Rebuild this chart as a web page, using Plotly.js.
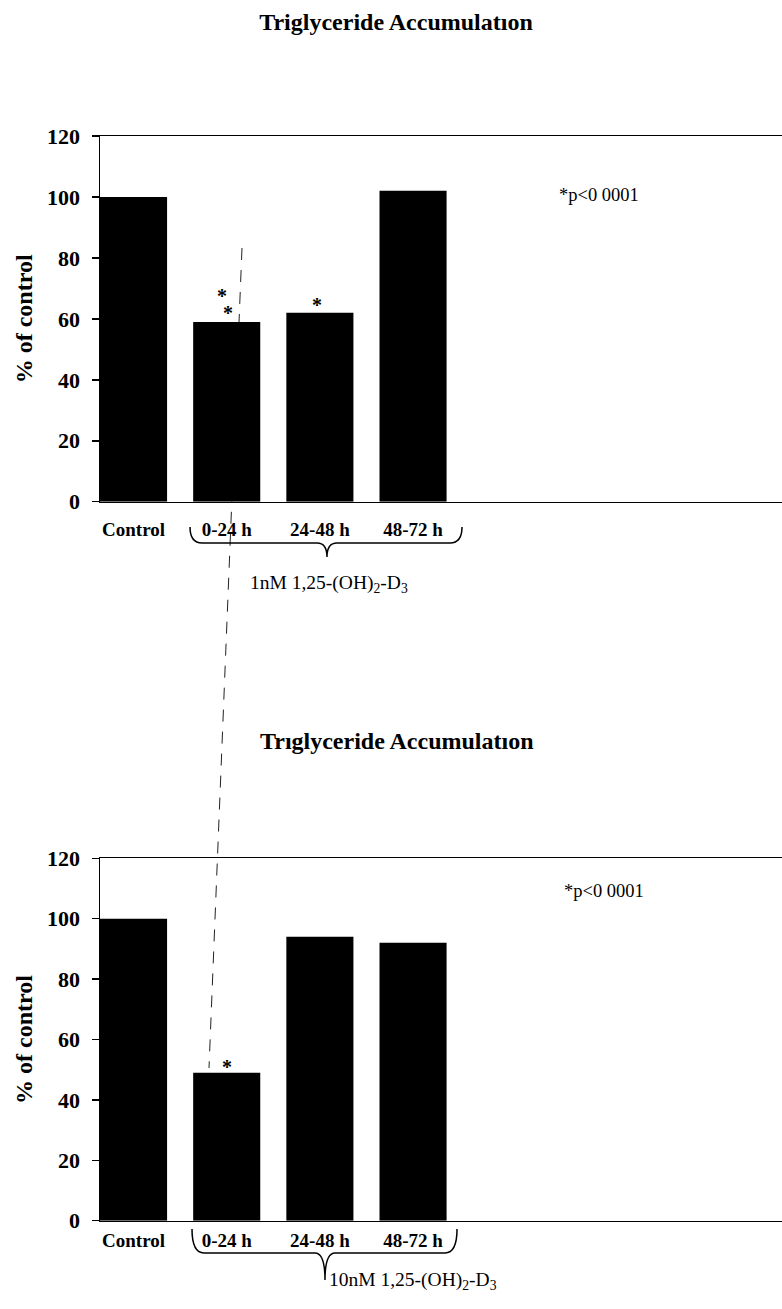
<!DOCTYPE html>
<html>
<head>
<meta charset="utf-8">
<script src="https://cdn.plot.ly/plotly-3.0.1.min.js"></script>
<style>html,body{margin:0;padding:0;background:#fff;}#chart{width:782px;height:1309px;}</style>
</head>
<body>
<div id="chart"></div>
<script>
// ---- data ----
const categories = ['Control', '0-24 h', '24-48 h', '48-72 h'];
const values1nM = [100, 59, 62, 102];
const values10nM = [100, 49, 94, 92];
const yTicks = [0, 20, 40, 60, 80, 100, 120];
const titleTop = 'Triglyceride Accumulatıon';
const titleBottom = 'Trıglyceride Accumulatıon';
const groupTop = '1nM 1,25-(OH)<sub>2</sub>-D<sub>3</sub>';
const groupBottom = '10nM 1,25-(OH)<sub>2</sub>-D<sub>3</sub>';
const pNote = '*p&lt;0 0001';
// significance stars: [category, y-value]
const starsTop = [[0.95, 68.8], [1.01, 63.2], [1.97, 65.9]];
const starsBottom = [[1.0, 52.2]];

// ---- layout helpers ----
const W = 782, H = 1309, L = 100;
const px = x => (x - L) / (W - L);
const py = y => 1 - y / H;
const SERIF = '"Liberation Serif", "Times New Roman", serif';

function bracePath(xl, xr, yTop, yMid, xTip, yTip) {
  const P = (x, y) => px(x).toFixed(4) + ',' + py(y).toFixed(4);
  return 'M' + P(xl, yTop) + ' Q' + P(xl, yMid) + ' ' + P(xl + 12, yMid) +
    ' L' + P(xTip - 10, yMid) + ' Q' + P(xTip, yMid) + ' ' + P(xTip, yTip) +
    ' Q' + P(xTip, yMid) + ' ' + P(xTip + 10, yMid) +
    ' L' + P(xr - 12, yMid) + ' Q' + P(xr, yMid) + ' ' + P(xr, yTop);
}

const barStyle = {color: '#000', line: {color: '#000', width: 0}};
const traces = [
  {type: 'bar', x: categories, y: values1nM, xaxis: 'x', yaxis: 'y', marker: barStyle, width: 0.72, hoverinfo: 'x+y'},
  {type: 'bar', x: categories, y: values10nM, xaxis: 'x2', yaxis: 'y2', marker: barStyle, width: 0.72, hoverinfo: 'x+y'}
];

function xAxis(anchor, standoff) {
  return {
    anchor: anchor, domain: [0, 1], type: 'category', range: [-0.36, 6.96],
    showline: true, linecolor: '#000', linewidth: 1.5, mirror: true,
    ticks: '', showgrid: false, zeroline: false,
    ticklabelstandoff: standoff,
    tickfont: {family: SERIF, size: 19, color: '#000', weight: 'bold'}
  };
}
function yAxis(anchor, domain) {
  return {
    anchor: anchor, domain: domain, range: [0, 120], tickvals: yTicks,
    showline: true, linecolor: '#000', linewidth: 1.5,
    ticks: 'outside', ticklen: 7, tickwidth: 1.5, tickcolor: '#000',
    showgrid: false, zeroline: false, ticklabelstandoff: 7,
    tickfont: {family: SERIF, size: 22, color: '#000', weight: 'bold'},
    title: {text: '% of control', standoff: 7, font: {family: SERIF, size: 24, color: '#000', weight: 'bold'}}
  };
}

const starAnn = (xr, yr, pts) => pts.map(p => ({
  xref: xr, yref: yr, x: p[0], y: p[1], text: '*', showarrow: false,
  font: {family: SERIF, size: 20, color: '#000', weight: 'bold'}, yshift: -4
}));

const layout = {
  width: W, height: H,
  margin: {l: L, r: 0, t: 0, b: 0},
  paper_bgcolor: '#fff', plot_bgcolor: '#fff',
  showlegend: false, bargap: 0.28,
  font: {family: SERIF, color: '#000'},
  title: {text: titleTop, xref: 'paper', x: px(396), xanchor: 'center', yref: 'container', y: py(22), yanchor: 'middle',
          font: {family: SERIF, size: 24, color: '#000', weight: 'bold'}},
  xaxis: xAxis('y', 10),
  yaxis: yAxis('x', [py(501.7), py(136)]),
  xaxis2: xAxis('y2', 2),
  yaxis2: yAxis('x2', [py(1220.7), py(858.3)]),
  annotations: [
    {xref: 'paper', yref: 'paper', x: px(397), y: py(741), text: titleBottom, showarrow: false,
     font: {family: SERIF, size: 24, color: '#000', weight: 'bold'}},
    {xref: 'paper', yref: 'paper', x: px(557), y: py(183), xanchor: 'left', text: pNote, showarrow: false,
     font: {family: SERIF, size: 18.5, color: '#000'}},
    {xref: 'paper', yref: 'paper', x: px(562), y: py(903), xanchor: 'left', text: pNote, showarrow: false,
     font: {family: SERIF, size: 18.5, color: '#000'}},
    {xref: 'paper', yref: 'paper', x: px(329), y: py(584), text: groupTop, showarrow: false,
     font: {family: SERIF, size: 19.5, color: '#000'}},
    {xref: 'paper', yref: 'paper', x: px(327), y: py(1295), text: groupBottom, showarrow: false,
     font: {family: SERIF, size: 19.5, color: '#000'}}
  ].concat(starAnn('x', 'y', starsTop), starAnn('x2', 'y2', starsBottom)),
  shapes: [
    {type: 'path', xref: 'paper', yref: 'paper', path: bracePath(190, 462, 527, 543, 327, 557),
     line: {color: '#000', width: 1.5}},
    {type: 'path', xref: 'paper', yref: 'paper', path: bracePath(192, 457, 1229, 1253, 325, 1280),
     line: {color: '#000', width: 1.5}},
    {type: 'line', xref: 'paper', yref: 'paper', x0: px(242), y0: py(248), x1: px(209), y1: py(1068),
     line: {color: '#222', width: 1, dash: '12px,10px'}, layer: 'below'}
  ]
};

Plotly.newPlot('chart', traces, layout, {displayModeBar: false, staticPlot: true});
</script>
</body>
</html>
